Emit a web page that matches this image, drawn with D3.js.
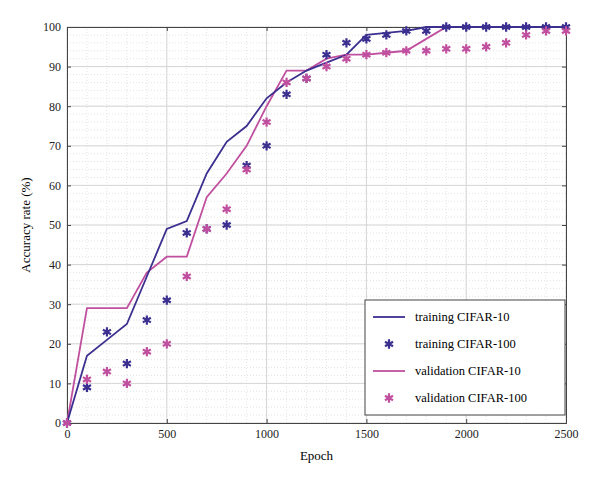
<!DOCTYPE html>
<html><head><meta charset="utf-8">
<script src="https://cdn.jsdelivr.net/npm/d3@7"></script>
<style>body{margin:0;background:#fff;font-family:"Liberation Serif",serif;}</style>
</head><body><svg id="chart" width="600" height="483"></svg>
<script>
// epochs 0..2500 step 100
const epochs = d3.range(0, 2501, 100);
const trainLine = [0,17,21,25,37,49,51,63,71,75,82,86,89,91,93,98,98.5,99,100,100,100,100,100,100,100,100];
const valLine   = [0,29,29,29,38,42,42,57,63,70,80,89,89,92,93,93,93.5,94,97,100,100,100,100,100,100,100];
const trainStars = [0,9,23,15,26,31,48,49,50,65,70,83,87,93,96,97,98,99,99,100,100,100,100,100,100,100];
const valStars   = [0,11,13,10,18,20,37,49,54,64,76,86,87,90,92,93,93.5,94,94,94.5,94.5,95,96,98,99,99];
const xTicks = [0,500,1000,1500,2000,2500];
const yTicks = d3.range(0, 101, 10);

const blue = "#3b2f8f", pink = "#c0509f";
const m = {l:67, r:34, t:27, b:60};
const W = 600, H = 483;
const svg = d3.select("#chart");
const x = d3.scaleLinear().domain([0,2500]).range([m.l, W-m.r]);
const y = d3.scaleLinear().domain([0,100]).range([H-m.b, m.t]);

// minor grid
const g = svg.append("g");
g.selectAll(".mx").data(d3.range(0,2501,100)).join("line")
  .attr("x1", d=>x(d)).attr("x2", d=>x(d)).attr("y1", y(0)).attr("y2", y(100))
  .attr("stroke", "#e4e4e4").attr("stroke-dasharray", "1,2");
g.selectAll(".my").data(d3.range(0,101,2)).join("line")
  .attr("y1", d=>y(d)).attr("y2", d=>y(d)).attr("x1", x(0)).attr("x2", x(2500))
  .attr("stroke", "#e4e4e4").attr("stroke-dasharray", "1,2");
// major grid
g.selectAll(".Mx").data(xTicks).join("line")
  .attr("x1", d=>x(d)).attr("x2", d=>x(d)).attr("y1", y(0)).attr("y2", y(100))
  .attr("stroke", "#d6d6d6");
g.selectAll(".My").data(yTicks).join("line")
  .attr("y1", d=>y(d)).attr("y2", d=>y(d)).attr("x1", x(0)).attr("x2", x(2500))
  .attr("stroke", "#d6d6d6");

// axes
svg.append("g").attr("transform", `translate(0,${y(0)})`)
  .call(d3.axisBottom(x).tickValues(xTicks).tickFormat(d3.format("d")).tickSize(-4).tickPadding(6));
svg.append("g").attr("transform", `translate(${x(0)},0)`)
  .call(d3.axisLeft(y).tickValues(yTicks).tickSize(-4).tickPadding(6));
svg.append("g").attr("transform", `translate(0,${y(100)})`)
  .call(d3.axisTop(x).tickValues(xTicks).tickSize(-4).tickFormat(""));
svg.append("g").attr("transform", `translate(${x(2500)},0)`)
  .call(d3.axisRight(y).tickValues(yTicks).tickSize(-4).tickFormat(""));
svg.selectAll(".domain").attr("stroke", "#444");
svg.selectAll(".tick line").attr("stroke", "#444");
svg.selectAll(".tick text").attr("font-family", "Liberation Serif").attr("font-size", 12).attr("fill", "#222");

svg.append("text").attr("x", (x(0)+x(2500))/2).attr("y", 460).attr("text-anchor", "middle")
  .attr("font-size", 13).text("Epoch");
svg.append("text").attr("transform", `translate(30,${(y(0)+y(100))/2}) rotate(-90)`)
  .attr("text-anchor", "middle").attr("font-size", 13).text("Accuracy rate (%)");

const line = d3.line().x((d,i)=>x(epochs[i])).y(d=>y(d));
svg.append("path").datum(valLine).attr("d", line).attr("fill", "none").attr("stroke", pink).attr("stroke-width", 1.8);
svg.append("path").datum(trainLine).attr("d", line).attr("fill", "none").attr("stroke", blue).attr("stroke-width", 1.8);

const star = d3.symbol().type(d3.symbolAsterisk).size(60);
function stars(data, c) {
  svg.append("g").selectAll("path").data(data).join("path")
    .attr("d", star).attr("transform", (d,i)=>`translate(${x(epochs[i])},${y(d)})`)
    .attr("stroke", c).attr("stroke-width", 2.2).attr("fill", "none");
}
stars(trainStars, blue);
stars(valStars, pink);

// legend
const lg = svg.append("g").attr("transform", "translate(365,300)");
lg.append("rect").attr("width", 200).attr("height", 115).attr("fill", "#fff").attr("stroke", "#444");
const items = [["training CIFAR-10", blue, "line"], ["training CIFAR-100", blue, "star"],
  ["validation CIFAR-10", pink, "line"], ["validation CIFAR-100", pink, "star"]];
items.forEach((it, i) => {
  const cy = 17 + i*27;
  if (it[2] === "line") lg.append("line").attr("x1", 8).attr("x2", 40).attr("y1", cy).attr("y2", cy)
    .attr("stroke", it[1]).attr("stroke-width", 1.8);
  else lg.append("path").attr("d", star).attr("transform", `translate(24,${cy})`)
    .attr("stroke", it[1]).attr("stroke-width", 2.2).attr("fill", "none");
  lg.append("text").attr("x", 50).attr("y", cy+4).attr("font-size", 12.5).text(it[0]);
});
</script></body></html>
